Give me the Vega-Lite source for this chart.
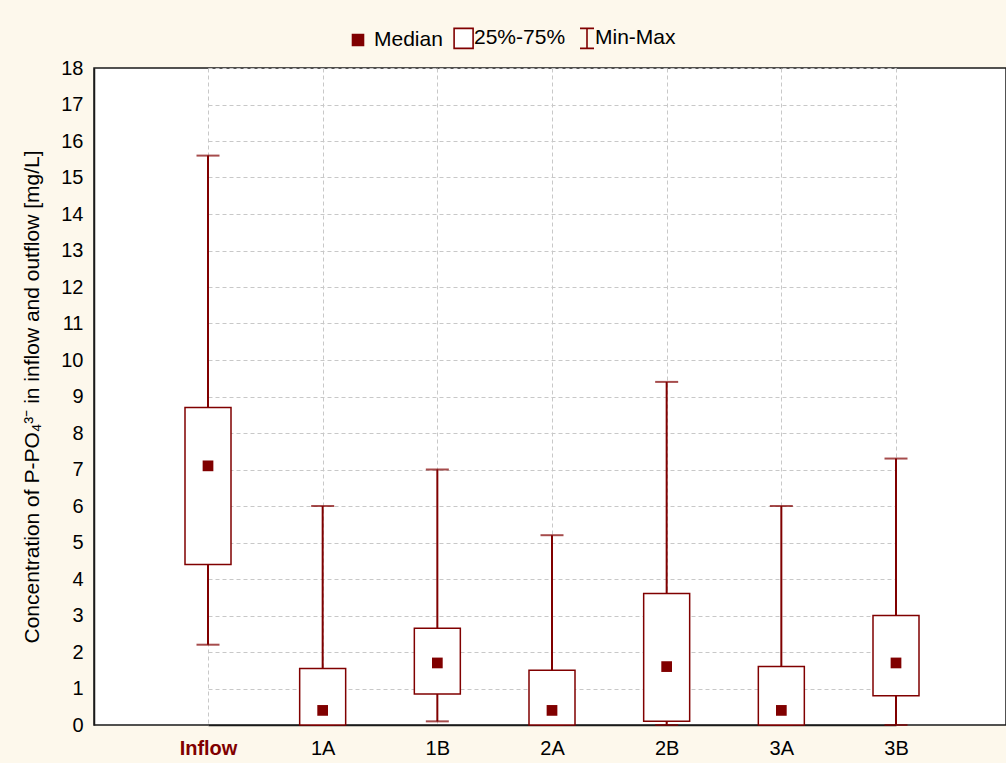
{
  "$schema": "https://vega.github.io/schema/vega-lite/v6.json",
  "width": 912,
  "height": 657,
  "autosize": "none",
  "padding": {"left": 94, "top": 68, "right": 0, "bottom": 38},
  "background": "#fdf8ec",
  "view": {"fill": "#ffffff", "stroke": "#1a1a1a", "strokeWidth": 1.5},
  "config": {
    "view": {"fill": "#ffffff", "stroke": "#1a1a1a", "strokeWidth": 1.5},
    "font": "Liberation Sans",
    "axis": {
      "grid": true,
      "gridColor": "#c8c8c8",
      "gridDash": [4, 3],
      "gridWidth": 1,
      "domainColor": "#1a1a1a",
      "domainWidth": 1.5,
      "tickSize": 0,
      "labelFont": "Liberation Sans",
      "labelColor": "black",
      "titleFont": "Liberation Sans",
      "titleFontWeight": "normal",
      "titleColor": "black"
    },
    "axisY": {
      "labelFontSize": 20,
      "labelPadding": 11,
      "titleFontSize": 21,
      "titlePadding": 18,
      "labelOverlap": false
    }
  },
  "data": {
    "values": [
      {"site": "Inflow", "min": 2.2, "q1": 4.4, "median": 7.1, "q3": 8.7, "max": 15.6},
      {"site": "1A", "min": 0, "q1": 0, "median": 0.4, "q3": 1.55, "max": 6.0},
      {"site": "1B", "min": 0.1, "q1": 0.85, "median": 1.7, "q3": 2.65, "max": 7.0},
      {"site": "2A", "min": 0, "q1": 0, "median": 0.4, "q3": 1.5, "max": 5.2},
      {"site": "2B", "min": 0, "q1": 0.1, "median": 1.6, "q3": 3.6, "max": 9.4},
      {"site": "3A", "min": 0, "q1": 0, "median": 0.4, "q3": 1.6, "max": 6.0},
      {"site": "3B", "min": 0, "q1": 0.8, "median": 1.7, "q3": 3.0, "max": 7.3}
    ]
  },
  "layer": [
    {
      "encoding": {
        "x": {
          "field": "site",
          "type": "nominal",
          "sort": null,
          "scale": {"type": "point", "range": [114, 802], "padding": 0},
          "axis": {
            "title": null,
            "labelAngle": 0,
            "labelFontSize": 20,
            "labelPadding": 13,
            "labelColor": {"condition": {"test": "datum.value == 'Inflow'", "value": "#800000"}, "value": "black"},
            "labelFontWeight": {"condition": {"test": "datum.value == 'Inflow'", "value": "bold"}, "value": "normal"}
          }
        }
      },
      "layer": [
        {
          "mark": {"type": "rule", "color": "#800000", "strokeWidth": 2},
          "encoding": {
            "y": {
              "field": "min",
              "type": "quantitative",
              "title": "Concentration of P-PO₄³⁻ in inflow and outflow [mg/L]",
              "scale": {"domain": [0, 18], "nice": false},
              "axis": {"values": [0, 1, 2, 3, 4, 5, 6, 7, 8, 9, 10, 11, 12, 13, 14, 15, 16, 17, 18], "labelOverlap": false}
            },
            "y2": {"field": "max"}
          }
        },
        {
          "mark": {"type": "tick", "color": "#800000", "thickness": 2, "size": 23, "orient": "horizontal"},
          "encoding": {
            "y": {"field": "max", "type": "quantitative", "title": "Concentration of P-PO₄³⁻ in inflow and outflow [mg/L]", "scale": {"domain": [0, 18], "nice": false}, "axis": {"values": [0, 1, 2, 3, 4, 5, 6, 7, 8, 9, 10, 11, 12, 13, 14, 15, 16, 17, 18], "labelOverlap": false}}
          }
        },
        {
          "mark": {"type": "tick", "color": "#800000", "thickness": 2, "size": 23, "orient": "horizontal"},
          "encoding": {
            "y": {"field": "min", "type": "quantitative", "title": "Concentration of P-PO₄³⁻ in inflow and outflow [mg/L]", "scale": {"domain": [0, 18], "nice": false}, "axis": {"values": [0, 1, 2, 3, 4, 5, 6, 7, 8, 9, 10, 11, 12, 13, 14, 15, 16, 17, 18], "labelOverlap": false}}
          }
        },
        {
          "mark": {"type": "bar", "fill": "white", "stroke": "#800000", "strokeWidth": 1.5, "size": 46},
          "encoding": {
            "y": {"field": "q1", "type": "quantitative", "title": "Concentration of P-PO₄³⁻ in inflow and outflow [mg/L]", "scale": {"domain": [0, 18], "nice": false}, "axis": {"values": [0, 1, 2, 3, 4, 5, 6, 7, 8, 9, 10, 11, 12, 13, 14, 15, 16, 17, 18], "labelOverlap": false}},
            "y2": {"field": "q3"}
          }
        },
        {
          "mark": {"type": "point", "shape": "square", "filled": true, "color": "#800000", "size": 115, "opacity": 1},
          "encoding": {
            "y": {"field": "median", "type": "quantitative", "title": "Concentration of P-PO₄³⁻ in inflow and outflow [mg/L]", "scale": {"domain": [0, 18], "nice": false}, "axis": {"values": [0, 1, 2, 3, 4, 5, 6, 7, 8, 9, 10, 11, 12, 13, 14, 15, 16, 17, 18], "labelOverlap": false}}
          }
        }
      ]
    },
    {
      "data": {"values": [{"legend": "Median"}, {"legend": "25%-75%"}, {"legend": "Min-Max"}]},
      "mark": {"type": "point", "opacity": 0},
      "encoding": {
        "shape": {
          "field": "legend",
          "type": "nominal",
          "sort": null,
          "scale": {
            "domain": ["Median", "25%-75%", "Min-Max"],
            "range": ["M-1.05,-0.55H0.05V0.55H-1.05Z", "M-0.89,-1H1.01V1H-0.89Z", "M-0.4,-1H1M0.3,-1V1M-0.4,1H1"]
          },
          "legend": {"title": null, "orient": "none", "legendX": 258, "legendY": -41, "direction": "horizontal", "symbolSize": 400, "labelFontSize": 21, "labelOffset": 0, "columnPadding": 7, "symbolStrokeWidth": 1.6, "symbolOpacity": 1, "padding": 0, "labelColor": "black", "labelFont": "Liberation Sans"}
        },
        "fill": {
          "field": "legend",
          "type": "nominal",
          "sort": null,
          "scale": {"domain": ["Median", "25%-75%", "Min-Max"], "range": ["#800000", "#ffffff", "transparent"]},
          "legend": {"title": null, "orient": "none", "legendX": 258, "legendY": -41, "direction": "horizontal", "symbolSize": 400, "labelFontSize": 21, "labelOffset": 0, "columnPadding": 7, "symbolStrokeWidth": 1.6, "symbolOpacity": 1, "padding": 0, "labelColor": "black", "labelFont": "Liberation Sans"}
        },
        "stroke": {
          "field": "legend",
          "type": "nominal",
          "sort": null,
          "scale": {"domain": ["Median", "25%-75%", "Min-Max"], "range": ["#800000", "#800000", "#800000"]},
          "legend": {"title": null, "orient": "none", "legendX": 258, "legendY": -41, "direction": "horizontal", "symbolSize": 400, "labelFontSize": 21, "labelOffset": 0, "columnPadding": 7, "symbolStrokeWidth": 1.6, "symbolOpacity": 1, "padding": 0, "labelColor": "black", "labelFont": "Liberation Sans"}
        }
      }
    }
  ]
}
